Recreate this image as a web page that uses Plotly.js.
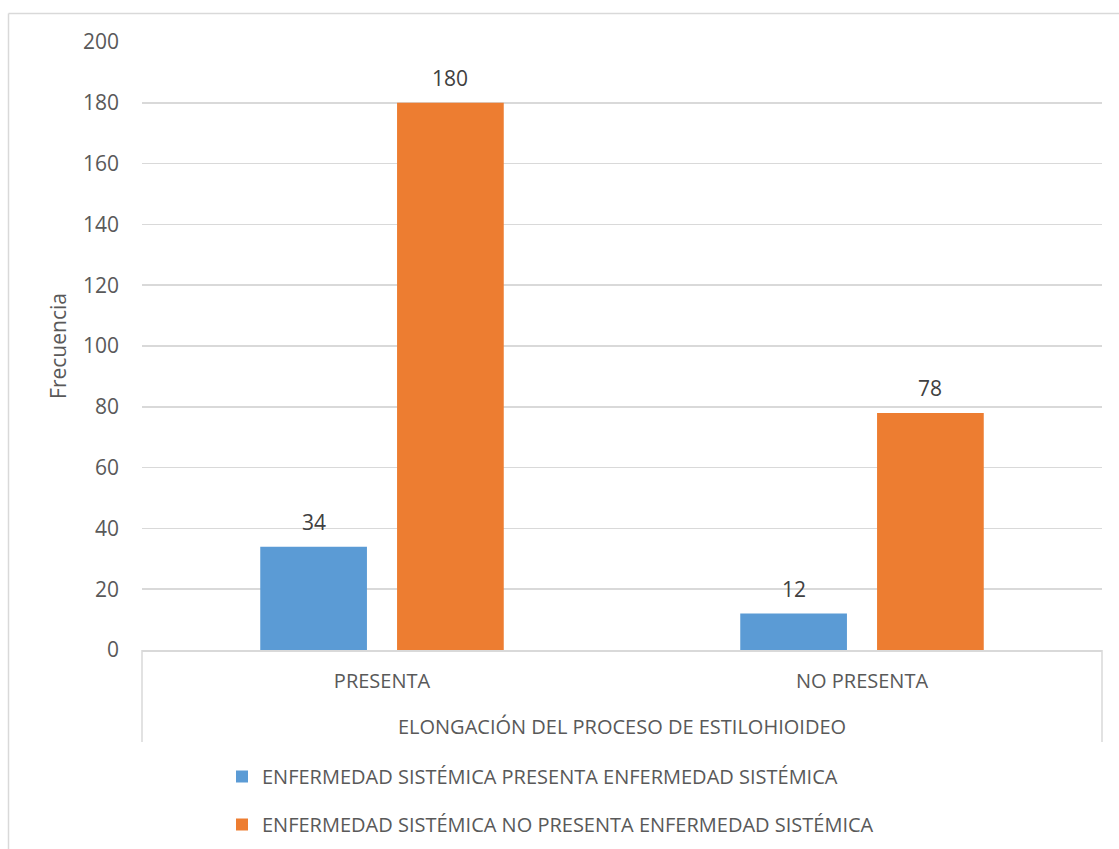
<!DOCTYPE html>
<html><head><meta charset="utf-8">
<script src="https://cdn.plot.ly/plotly-3.0.1.min.js"></script>
<style>html,body{margin:0;padding:0;background:#fff}#c{width:1119px;height:849px}</style>
</head><body><div id="c"></div>
<script>
const categories = ["PRESENTA", "NO PRESENTA"];
const seriesNames = ["ENFERMEDAD SISTÉMICA PRESENTA ENFERMEDAD SISTÉMICA",
                     "ENFERMEDAD SISTÉMICA NO PRESENTA ENFERMEDAD SISTÉMICA"];
const presentaValues = [34, 12];
const noPresentaValues = [180, 78];
const yTicks = [0, 20, 40, 60, 80, 100, 120, 140, 160, 180, 200];
const colors = ["#5b9bd5", "#ed7d31"];

const FONT = "Open Sans, Noto Sans, sans-serif";
const series = [presentaValues, noPresentaValues];
const traces = series.map((vals, i) => ({
  type: "bar", x: categories, y: vals, name: seriesNames[i],
  marker: {color: colors[i]}, legendgroup: "g" + i, hoverinfo: "skip"
}));

const L = 142, R = 17, T = 42, B = 199;
const plotW = 1119 - L - R;
const slot = plotW / categories.length;
const bargap = 0.43, bargroupgap = 0.22;
const barSlot = slot * (1 - bargap) / 2;

const annotations = [];
series.forEach((vals, i) => {
  vals.forEach((v, j) => {
    annotations.push({x: categories[j], y: v, xref: "x", yref: "y", text: String(v),
      showarrow: false, yanchor: "bottom", yshift: 9, xshift: (i - 0.5) * barSlot,
      font: {family: FONT, size: 21, color: "#404040"}});
  });
});

const px = v => (v - L) / plotW;
const py = v => (849 - B - v) / (849 - T - B);
const lc = "#d9d9d9";
const shapes = [
  {type: "line", xref: "paper", yref: "paper", x0: px(8.5), x1: px(1119), y0: py(13.5), y1: py(13.5), line: {color: lc, width: 1.5}},
  {type: "line", xref: "paper", yref: "paper", x0: px(8.5), x1: px(8.5), y0: py(13.5), y1: py(849), line: {color: lc, width: 1.5}},
  {type: "line", xref: "paper", yref: "paper", x0: 0, x1: 0, y0: 0, y1: py(742), line: {color: lc, width: 1.5}},
  {type: "line", xref: "paper", yref: "paper", x0: 1, x1: 1, y0: 0, y1: py(742), line: {color: lc, width: 1.5}}
];

const layout = {
  width: 1119, height: 849,
  margin: {l: L, r: R, t: T, b: B, autoexpand: false},
  paper_bgcolor: "#fff", plot_bgcolor: "#fff",
  font: {family: FONT, size: 21, color: "#595959"},
  barmode: "group", bargap: bargap, bargroupgap: bargroupgap,
  showlegend: true,
  legend: {orientation: "v", x: px(222), xanchor: "left", y: py(757), yanchor: "top",
    font: {family: FONT, size: 20, color: "#595959"}, tracegroupgap: 19, traceorder: "grouped",
    bgcolor: "rgba(0,0,0,0)"},
  xaxis: {type: "category", showgrid: false, ticks: "", showline: true, linecolor: lc, linewidth: 1.5,
    ticklabelstandoff: 12, tickfont: {size: 20},
    title: {text: "ELONGACIÓN DEL PROCESO DE ESTILOHIOIDEO", standoff: 27, font: {size: 20, color: "#595959"}},
    automargin: false},
  yaxis: {range: [0, 200], tickvals: yTicks, showgrid: true, gridcolor: lc, gridwidth: 1.5,
    zeroline: false, showline: false, ticks: "", ticklabelstandoff: 22,
    title: {text: "Frecuencia", standoff: 10, font: {size: 21, color: "#595959"}}, automargin: false},
  annotations: annotations,
  shapes: shapes
};
Plotly.newPlot("c", traces, layout, {staticPlot: true, displayModeBar: false});
</script></body></html>
